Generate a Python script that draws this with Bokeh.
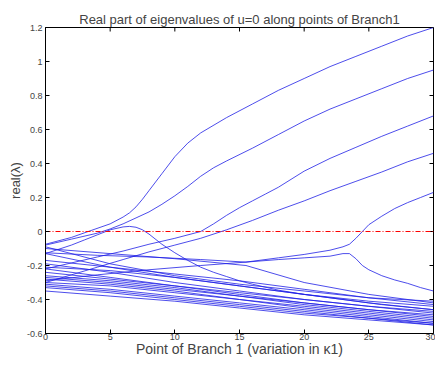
import math
from bokeh.plotting import figure
from bokeh.models import FixedTicker, Range1d
from bokeh.embed import file_html
from bokeh.resources import INLINE

TITLE = "Real part of eigenvalues of u=0 along points of Branch1"
X_LABEL = "Point of Branch 1 (variation in \u03ba1)"
Y_LABEL = "real(\u03bb)"

X_MIN, X_MAX = 0, 30
Y_MIN, Y_MAX = -0.6, 1.2
ZERO_LEVEL = 0
X_TICKS = [0, 5, 10, 15, 20, 25, 30]
Y_TICKS = [-0.6, -0.4, -0.2, 0, 0.2, 0.4, 0.6, 0.8, 1, 1.2]
Y_TICK_LABELS = ["-0.6", "-0.4", "-0.2", "0", "0.2", "0.4", "0.6", "0.8", "1", "1.2"]

# rising branches
C1_X = [0, 2, 3.3, 5, 6, 6.5, 7, 7.5, 8, 9, 10, 11, 12, 14, 16, 18, 20, 22, 24, 26, 28, 30]
C1_Y = [-0.075, -0.035, 0.0, 0.045, 0.085, 0.11, 0.145, 0.19, 0.24, 0.34, 0.44, 0.52, 0.58, 0.67, 0.75, 0.83, 0.90, 0.97, 1.03, 1.09, 1.15, 1.20]
C2_X = [0, 2, 4, 5, 6, 7, 8, 9, 10, 11, 12, 13, 14, 16, 18, 20, 22, 24, 26, 28, 30]
C2_Y = [-0.08, -0.045, -0.01, 0.015, 0.045, 0.08, 0.115, 0.16, 0.21, 0.265, 0.325, 0.375, 0.415, 0.49, 0.57, 0.65, 0.72, 0.78, 0.84, 0.90, 0.95]
C3_X = [0, 2, 4, 6, 8, 10, 12, 13, 14, 15, 16, 17, 18, 20, 22, 24, 26, 28, 30]
C3_Y = [-0.22, -0.185, -0.15, -0.115, -0.075, -0.04, 0.0, 0.045, 0.095, 0.14, 0.18, 0.22, 0.26, 0.355, 0.43, 0.495, 0.56, 0.62, 0.68]
C4_X = [0, 2, 4, 6, 8, 10, 12, 14, 16, 18, 20, 22, 24, 26, 28, 30]
C4_Y = [-0.30, -0.255, -0.21, -0.165, -0.12, -0.08, -0.04, 0.01, 0.065, 0.125, 0.18, 0.24, 0.295, 0.35, 0.41, 0.46]
# hump
H_X = [0, 2, 3, 4, 5, 6, 6.5, 7, 7.5, 8, 9, 10, 11, 12, 13, 14, 15, 16, 18, 20, 22, 24, 26, 28, 30]
H_Y = [-0.13, -0.08, -0.05, -0.02, 0.01, 0.027, 0.03, 0.025, 0.01, -0.015, -0.075, -0.125, -0.17, -0.21, -0.24, -0.265, -0.29, -0.31, -0.345, -0.37, -0.39, -0.41, -0.43, -0.445, -0.46]
# pair meeting near x=23.5
P1_X = [0, 4, 8, 12, 15.5, 18, 20, 22, 23, 23.5, 24, 24.5, 25, 26, 27, 28, 29, 30]
P1_Y = [-0.29, -0.255, -0.225, -0.20, -0.18, -0.155, -0.135, -0.11, -0.09, -0.075, -0.04, 0.0, 0.04, 0.09, 0.135, 0.17, 0.20, 0.23]
P2_X = [0, 4, 8, 12, 15.5, 18, 20, 22, 23, 23.5, 24, 24.5, 25, 26, 27, 28, 29, 30]
P2_Y = [-0.125, -0.14, -0.15, -0.165, -0.18, -0.165, -0.155, -0.145, -0.13, -0.13, -0.16, -0.2, -0.225, -0.26, -0.285, -0.305, -0.33, -0.35]
# steeper descending line through the crossing near x=15.5
D_X = [0, 5, 10, 15.5, 20, 25, 30]
D_Y = [-0.10, -0.13, -0.16, -0.20, -0.30, -0.37, -0.42]

# decaying bundle
B_X = [0, 5, 10, 15, 20, 25, 30]
B01 = [-0.09, -0.19, -0.26, -0.31, -0.35, -0.39, -0.41]
B02 = [-0.13, -0.21, -0.27, -0.32, -0.37, -0.41, -0.44]
B03 = [-0.17, -0.21, -0.25, -0.29, -0.34, -0.39, -0.43]
B04 = [-0.19, -0.24, -0.30, -0.35, -0.40, -0.44, -0.48]
B05 = [-0.21, -0.23, -0.27, -0.32, -0.37, -0.42, -0.46]
B06 = [-0.22, -0.27, -0.32, -0.37, -0.42, -0.46, -0.50]
B07 = [-0.24, -0.28, -0.32, -0.36, -0.40, -0.44, -0.47]
B08 = [-0.26, -0.29, -0.33, -0.38, -0.43, -0.47, -0.51]
B09 = [-0.27, -0.30, -0.34, -0.38, -0.42, -0.46, -0.49]
B10 = [-0.28, -0.31, -0.35, -0.40, -0.45, -0.49, -0.53]
B11 = [-0.30, -0.32, -0.36, -0.40, -0.44, -0.48, -0.52]
B12 = [-0.31, -0.34, -0.38, -0.42, -0.46, -0.50, -0.54]
B13 = [-0.32, -0.35, -0.39, -0.43, -0.47, -0.51, -0.55]
B14 = [-0.33, -0.36, -0.40, -0.44, -0.48, -0.51, -0.54]
B15 = [-0.35, -0.38, -0.41, -0.45, -0.49, -0.52, -0.55]

FONT = "Liberation Sans"
BLUE = "#1f1fe6"
RED = "#ff0000"

p = figure(frame_width=388, frame_height=306, output_backend="svg", toolbar_location=None,
           x_range=Range1d(X_MIN, X_MAX), y_range=Range1d(Y_MIN, Y_MAX),
           min_border_left=45, min_border_right=2, min_border_top=27, min_border_bottom=20,
           title=TITLE)
p.title.text_font = FONT
p.title.text_font_size = "13px"
p.title.text_font_style = "normal"
p.title.align = "center"
p.title.standoff = 2
p.grid.visible = False
p.outline_line_color = "black"
p.outline_line_width = 1
p.background_fill_color = "white"
p.border_fill_color = "white"

for ax in (p.xaxis[0], p.yaxis[0]):
    ax.major_tick_in = 4
    ax.major_tick_out = 0
    ax.minor_tick_in = 0
    ax.minor_tick_out = 0
    ax.axis_line_color = "black"
    ax.major_label_text_font = FONT
    ax.major_label_text_font_size = "9px"
    ax.axis_label_text_font = FONT
    ax.axis_label_text_font_style = "normal"

p.xaxis[0].ticker = FixedTicker(ticks=X_TICKS)
p.xaxis[0].axis_label = X_LABEL
p.xaxis[0].axis_label_text_font_size = "14px"
p.xaxis[0].major_label_standoff = 0
p.xaxis[0].axis_label_standoff = -2

p.yaxis[0].ticker = FixedTicker(ticks=Y_TICKS)
p.yaxis[0].major_label_overrides = {t: s for t, s in zip(Y_TICKS, Y_TICK_LABELS)}
p.yaxis[0].axis_label = Y_LABEL
p.yaxis[0].axis_label_text_font_size = "13px"
p.yaxis[0].major_label_standoff = 3
p.yaxis[0].axis_label_standoff = 1

# inward ticks on the top and right edges of the box
p.ray(x=X_TICKS, y=[Y_MAX] * len(X_TICKS), length=4, length_units="screen",
      angle=-math.pi / 2, line_color="black", line_width=1)
p.ray(x=[X_MAX] * len(Y_TICKS), y=Y_TICKS, length=4, length_units="screen",
      angle=math.pi, line_color="black", line_width=1)

for xs, ys in [(B_X, B01), (B_X, B02), (B_X, B03), (B_X, B04), (B_X, B05), (B_X, B06),
               (B_X, B07), (B_X, B08), (B_X, B09), (B_X, B10), (B_X, B11), (B_X, B12),
               (B_X, B13), (B_X, B14), (B_X, B15), (D_X, D_Y),
               (H_X, H_Y), (P1_X, P1_Y), (P2_X, P2_Y),
               (C4_X, C4_Y), (C3_X, C3_Y), (C2_X, C2_Y), (C1_X, C1_Y)]:
    p.line(xs, ys, line_color=BLUE, line_width=0.8)

# dash-dot reference line at zero across the x range
p.line([X_MIN, X_MAX], [ZERO_LEVEL, ZERO_LEVEL], line_color=RED, line_alpha=1.0,
       line_width=1.1, line_dash="5 2 1 2")

open("out.html", "w").write(file_html(p, INLINE))
